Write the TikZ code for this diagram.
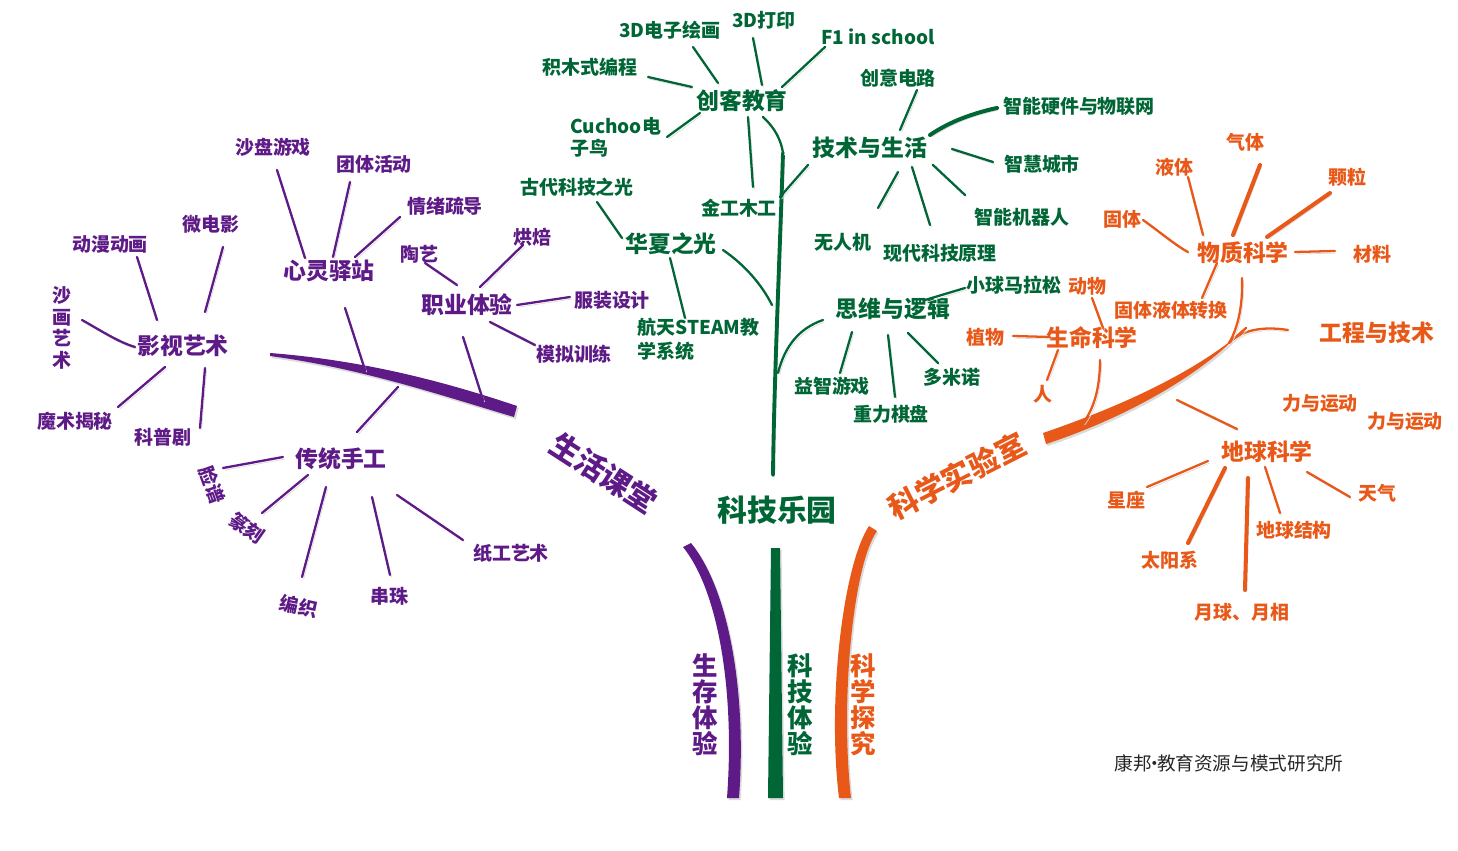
\documentclass[tikz,border=0pt]{standalone}
\usepackage{fontspec}
\setmainfont{Noto Sans CJK SC}
\usetikzlibrary{calc}
\definecolor{pu}{RGB}{94,26,134}
\definecolor{gn}{RGB}{0,102,54}
\definecolor{og}{RGB}{232,88,24}
\begin{document}
\begin{tikzpicture}[x=0.02cm,y=-0.02cm,
lab/.style={font=\bfseries\fontsize{10.8}{13}\selectfont,inner sep=0pt},
hub/.style={font=\bfseries\fontsize{13}{14}\selectfont,inner sep=0pt},
big/.style={font=\bfseries\fontsize{17}{18}\selectfont,inner sep=0pt},
vert/.style={font=\bfseries\fontsize{14.5}{14.8}\selectfont,align=center,inner sep=0pt},
ln/.style={line width=1.3pt,line cap=round,preaction={draw=black!14,transform canvas={xshift=.9pt,yshift=-1.2pt}}},
thk/.style={ln,line width=2.3pt},
fsh/.style={preaction={fill=black!14,transform canvas={xshift=.9pt,yshift=-1.2pt}}}]
\useasboundingbox(0,0)rectangle(1458,851);
% 生活课堂
\begin{scope}[pu]
\node[big,rotate=-33](shkt)at(604,473){生活课堂};
\fill[fsh](270,353)..controls(360,360)and(440,380)..(517,406)--(514,417)..controls(440,395)and(360,368)..(270,356)--cycle;
\coordinate(pj1)at(365,370);\coordinate(pj2)at(483,400);\coordinate(pj3)at(398,387);
\node[hub](xlyz)at(329,271){心灵驿站};
\node[lab](spyx)at(273,147){沙盘游戏};\node[lab](tthd)at(374,164){团体活动};\node[lab](qxsd)at(445,206){情绪疏导};
\draw[ln]($(spyx)+(4,23)$)--($(xlyz)+(-24,-13)$);\draw[ln]($(tthd)+(-24,18)$)--($(xlyz)+(4,-14)$);
\draw[ln]($(qxsd)+(-45,11)$)--($(xlyz)+(26,-14)$);\draw[ln]($(xlyz)+(16,37)$)--(pj1);
\node[hub](ysys)at(183,346){影视艺术};
\node[lab](dmdh)at(110,244){动漫动画};\node[lab](wdy)at(211,224){微电影};
\node[lab,align=center,font=\bfseries\fontsize{10.8}{12.3}\selectfont](shys)at(62,328){沙\\画\\艺\\术};
\node[lab](msjm)at(75,421){魔术揭秘};\node[lab](kpj)at(163,437){科普剧};
\draw[ln]($(dmdh)+(27,13)$)--($(ysys)+(-26,-26)$);\draw[ln]($(wdy)+(12,23)$)--($(ysys)+(22,-34)$);
\draw[ln]($(shys)+(20,-8)$)..controls(100,330)and(118,342)..($(ysys)+(-48,1)$);
\draw[ln]($(msjm)+(43,-14)$)--($(ysys)+(-18,21)$);\draw[ln]($(kpj)+(37,-9)$)--($(ysys)+(22,22)$);
\node[hub](zyty)at(467,305){职业体验};
\node[lab](ty)at(419,254){陶艺};\node[lab](hb)at(532,237){烘焙};\node[lab](fzsj)at(612,300){服装设计};\node[lab](mnxl)at(574,354){模拟训练};
\draw[ln]($(ty)+(6,9)$)--($(zyty)+(-10,-20)$);\draw[ln]($(hb)+(-9,8)$)--($(zyty)+(13,-18)$);
\draw[ln]($(fzsj)+(-42,-3)$)--($(zyty)+(50,0)$);\draw[ln]($(mnxl)+(-39,-9)$)--($(zyty)+(23,17)$);
\draw[ln]($(zyty)+(-4,32)$)--(pj2);
\node[hub](ctsg)at(341,459){传统手工};
\node[lab,rotate=-70](lp)at(212,485){脸谱};\node[lab,rotate=-35](zk)at(247,528){篆刻};\node[lab,rotate=-12](bz)at(299,606){编织};
\node[lab](cz)at(389,596){串珠};\node[lab](zgys)at(511,553){纸工艺术};
\draw[ln](pj3)--($(ctsg)+(16,-27)$);
\draw[ln]($(lp)+(11,-17)$)--($(ctsg)+(-58,-2)$);\draw[ln]($(zk)+(15,-15)$)--($(ctsg)+(-33,16)$);
\draw[ln]($(bz)+(3,-29)$)--($(ctsg)+(-15,28)$);\draw[ln]($(cz)+(1,-21)$)--($(ctsg)+(31,38)$);
\draw[ln]($(zgys)+(-48,-13)$)--($(ctsg)+(56,36)$);
\fill[fsh](683,547)..controls(718,590)and(735,690)..(727,798)--(739,798)..controls(747,690)and(728,588)..(691,543)--cycle;
\node[vert](scty)at(705,705){生\\存\\体\\验};
\end{scope}
% 科技乐园
\begin{scope}[gn]
\node[big](kjly)at(777,510){科技乐园};
\coordinate(gtop)at(783,153);\coordinate(gbot)at(773,475);
\coordinate(gj1)at(780,197);\coordinate(gj2)at(772,305);\coordinate(gj3)at(778,373);
\draw[ln,line width=2.2pt](gbot)..controls(774,380)and(780,250)..(gtop);
\node[hub](ckjy)at(742,101){创客教育};
\node[lab](sdhh)at(670,30){3D电子绘画};\node[lab](sddy)at(764,20){3D打印};\node[lab](fone)at(878,37){F1 in school};
\node[lab](jmbc)at(590,67){积木式编程};
\node[lab,align=left,anchor=west,font=\bfseries\fontsize{10.8}{12.5}\selectfont](cuck)at(570,137){Cuchoo电\\子鸟};
\node[lab](jgmg)at(739,208){金工木工};
\draw[ln]($(sdhh)+(23,17)$)--($(ckjy)+(-24,-18)$);\draw[ln]($(sddy)+(-11,18)$)--($(ckjy)+(20,-16)$);
\draw[ln]($(fone)+(-53,10)$)--($(ckjy)+(40,-14)$);\draw[ln]($(jmbc)+(58,10)$)--($(ckjy)+(-50,-14)$);
\draw[ln]($(cuck.west)+(97,0)$)--($(ckjy)+(-42,12)$);
\draw[ln]($(ckjy)+(6,16)$)--($(jgmg)+(14,-21)$);
\draw[ln]($(ckjy)+(21,16)$)..controls(775,128)and(781,140)..(gtop);
\node[hub](jsys)at(870,148){技术与生活};
\node[lab](cydl)at(898,78){创意电路};\node[lab](znyj)at(1079,106){智能硬件与物联网};\node[lab](zhcs)at(1042,164){智慧城市};
\node[lab](znjq)at(1022,217){智能机器人};\node[lab](xdkj)at(940,253){现代科技原理};\node[lab](wrj)at(843,242){无人机};
\draw[ln](gj1)--($(jsys)+(-62,17)$);
\draw[ln]($(cydl)+(19,12)$)--($(jsys)+(30,-18)$);
\draw[thk]($(znyj)+(-82,2)$)..controls(965,115)and(945,125)..($(jsys)+(60,-13)$);
\draw[ln]($(zhcs)+(-49,-2)$)--($(jsys)+(82,1)$);\draw[ln]($(znjq)+(-57,-22)$)--($(jsys)+(63,17)$);
\draw[ln]($(xdkj)+(-10,-28)$)--($(jsys)+(42,19)$);\draw[ln]($(wrj)+(35,-34)$)--($(jsys)+(28,24)$);
\node[hub](hxzg)at(671,244){华夏之光};
\node[lab](gdkj)at(577,187){古代科技之光};
\node[lab,align=left,anchor=west,font=\bfseries\fontsize{10.8}{13.6}\selectfont](htst)at(637,339){航天STEAM教\\学系统};
\draw[ln]($(gdkj)+(20,15)$)--($(hxzg)+(-49,-6)$);
\draw[ln]($(hxzg)+(52,6)$)..controls(745,265)and(762,285)..(gj2);
\draw[ln]($(hxzg)+(-1,14)$)--($(htst.west)+(48,-21)$);
\node[hub](swlj)at(893,309){思维与逻辑};
\node[lab](xqml)at(1014,285){小球马拉松};\node[lab](yzyx)at(832,386){益智游戏};\node[lab](zlqp)at(891,414){重力棋盘};\node[lab](dmn)at(952,377){多米诺};
\draw[ln](gj3)..controls(785,345)and(800,328)..($(swlj)+(-70,11)$);
\draw[ln]($(xqml)+(-49,3)$)--($(swlj)+(32,-9)$);\draw[ln]($(yzyx)+(8,-13)$)--($(swlj)+(-41,23)$);
\draw[ln]($(zlqp)+(4,-17)$)--($(swlj)+(-5,26)$);\draw[ln]($(dmn)+(-14,-14)$)--($(swlj)+(15,24)$);
\fill[fsh](771,548)--(780,548)--(783,798)--(768,798)--cycle;
\node[vert](kjty)at(800,705){科\\技\\体\\验};
\end{scope}
% 科学实验室
\begin{scope}[og]
\node[big,rotate=27](kxsy)at(957,476){科学实验室};
\fill[fsh](1043,433)..controls(1110,410)and(1180,380)..(1232,340)--(1228,345)..controls(1180,388)and(1110,423)..(1046,444)--cycle;
\coordinate(oj1)at(1229,343);\coordinate(oj2)at(1083,423);\coordinate(oj3)at(1177,400);
\node[hub](gcjs)at(1377,333){工程与技术};
\draw[ln]($(gcjs)+(-89,-3)$)..controls(1262,326)and(1242,330)..(oj1);\draw[ln](oj1)--++(17,-15);
\node[hub](wzkx)at(1243,253){物质科学};
\node[lab](qt)at(1245,142){气体};\node[lab](yt)at(1174,167){液体};\node[lab](kl)at(1347,177){颗粒};
\node[lab](gti)at(1122,219){固体};\node[lab](cl)at(1372,254){材料};\node[lab](gyzh)at(1171,310){固体液体转换};
\draw[thk]($(qt)+(15,23)$)--($(wzkx)+(-10,-18)$);\draw[ln]($(yt)+(14,10)$)--($(wzkx)+(-40,-18)$);
\draw[thk]($(kl)+(-17,16)$)--($(wzkx)+(24,-16)$);
\draw[ln]($(gti)+(21,1)$)..controls(1160,232)and(1175,245)..($(wzkx)+(-55,-1)$);
\draw[ln]($(cl)+(-37,-3)$)--($(wzkx)+(52,-1)$);\draw[ln]($(wzkx)+(-26,10)$)--($(gyzh)+(31,-12)$);
\draw[ln]($(wzkx)+(-1,25)$)..controls(1243,305)and(1238,328)..(oj1);
\node[hub](smkx)at(1092,338){生命科学};
\node[lab](dw)at(1087,286){动物};\node[lab](zw)at(985,337){植物};\node[lab](ren)at(1043,394){人};
\draw[ln]($(dw)+(5,12)$)--($(smkx)+(11,-10)$);\draw[ln]($(zw)+(28,-1)$)--($(smkx)+(-42,-1)$);
\draw[ln]($(ren)+(4,-14)$)--($(smkx)+(-34,12)$);
\draw[ln]($(smkx)+(8,22)$)..controls(1100,390)and(1093,410)..(oj2);
\node[hub](dqkx)at(1267,452){地球科学};
\node[lab](xz)at(1126,500){星座};\node[lab](tyx)at(1170,560){太阳系};\node[lab](yqyx)at(1242,612){月球、月相};
\node[lab](dqjg)at(1294,530){地球结构};\node[lab](tq)at(1377,493){天气};
\node[lab](lyyd)at(1320,403){力与运动};\node[lab](lyyd2)at(1405,421){力与运动};
\draw[ln](oj3)--($(dqkx)+(-30,-23)$);
\draw[ln]($(xz)+(21,-13)$)--($(dqkx)+(-59,9)$);\draw[thk]($(tyx)+(18,-17)$)--($(dqkx)+(-42,16)$);
\draw[thk]($(yqyx)+(3,-22)$)--($(dqkx)+(-19,26)$);\draw[ln]($(dqjg)+(-14,-17)$)--($(dqkx)+(-2,15)$);
\draw[ln]($(tq)+(-27,4)$)--($(dqkx)+(40,20)$);
\fill[fsh](869,526)..controls(843,565)and(827,700)..(839,798)--(851,798)..controls(840,700)and(853,565)..(877,531)--cycle;
\node[vert](kxtj)at(863,705){科\\学\\探\\究};
\end{scope}
\node[font=\fontsize{10.6}{12}\selectfont,inner sep=0pt,text=black!85](wm)at(1229,763){康邦\kern-.36em·\kern-.36em教育资源与模式研究所};
\end{tikzpicture}
\end{document}
